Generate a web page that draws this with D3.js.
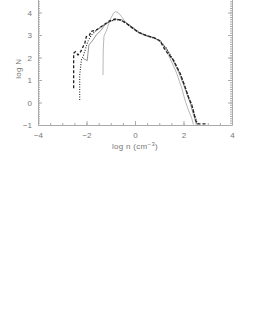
<!DOCTYPE html>
<html lang="en">
<head>
  <meta charset="UTF-8">
  <title>log N vs log n</title>
  <script src="https://d3js.org/d3.v7.min.js"></script>
  <style>
    body { margin: 0; background: #fff; }
    .axis path, .axis line { stroke: #aaa; }
    .axis text { fill: #777; font-family: "Liberation Sans", sans-serif; font-size: 8px; }
    .title { fill: #777; font-family: "Liberation Sans", sans-serif; font-size: 8px; letter-spacing: 0.3px; }
  </style>
</head>
<body>
  <svg class="chart" width="255" height="330"></svg>
  <script>
    // curve data (log n, log N)
    const thinX = [-1.32, -1.31, -1.28, -1.17, -1.03, -0.89, -0.80, -0.69, -0.55, -0.41, -0.21, 0.07, 0.34, 0.62, 0.89, 1.10, 1.24, 1.51, 1.72, 1.93, 2.06, 2.20, 2.34, 2.41];
    const thinY = [1.22, 2.33, 2.95, 3.22, 3.67, 3.96, 4.04, 3.99, 3.81, 3.59, 3.37, 3.15, 3.00, 2.90, 2.81, 2.63, 2.41, 1.81, 1.30, 0.63, 0.11, -0.33, -0.70, -0.98];

    const greyX = [-2.14, -1.97, -1.94, -1.90, -1.73, -1.60, -1.39, -1.25, -1.11, -0.95, -0.75, -0.55, -0.35, -0.10, 0.20, 0.50, 0.80, 1.05, 1.30, 1.55, 1.80, 2.00, 2.15, 2.30, 2.40, 2.50, 2.58];
    const greyY = [1.96, 1.86, 2.19, 2.56, 2.78, 3.00, 3.22, 3.44, 3.55, 3.64, 3.70, 3.68, 3.54, 3.34, 3.10, 2.97, 2.88, 2.72, 2.38, 1.90, 1.35, 0.80, 0.35, -0.10, -0.50, -0.85, -0.98];

    const dashX = [-2.53, -2.53, -2.46, -2.35, -2.24, -2.07, -2.01, -1.87, -1.83, -1.60, -1.40, -1.20, -1.03, -0.82, -0.62, -0.41, -0.14, 0.14, 0.48, 0.75, 1.03, 1.24, 1.58, 1.86, 2.06, 2.20, 2.34, 2.43, 2.52, 2.56, 2.75, 2.95];
    const dashY = [0.63, 2.19, 2.26, 2.11, 2.26, 2.63, 2.92, 3.00, 3.15, 3.22, 3.37, 3.52, 3.64, 3.71, 3.67, 3.55, 3.34, 3.12, 2.97, 2.90, 2.75, 2.33, 1.89, 1.30, 0.70, 0.26, -0.11, -0.48, -0.85, -0.95, -0.95, -0.95];

    const dotX = [-2.28, -2.28, -2.21, -2.14, -2.05, -1.95, -1.80, -1.60, -1.40, -1.20, -1.00, -0.80, -0.60, -0.40, -0.15, 0.15, 0.50, 0.80, 1.05, 1.30, 1.60, 1.88, 2.08, 2.22, 2.36, 2.46, 2.56, 2.64];
    const dotY = [0.11, 1.22, 1.89, 2.04, 2.35, 2.70, 3.00, 3.20, 3.35, 3.50, 3.62, 3.68, 3.66, 3.56, 3.36, 3.12, 2.96, 2.86, 2.72, 2.40, 1.85, 1.25, 0.65, 0.20, -0.15, -0.55, -0.90, -0.97];

    const xTicks = [-4, -2, 0, 2, 4];
    const yTicks = [-1, 0, 1, 2, 3, 4];

    const series = [
      { xs: thinX, ys: thinY, color: "#999", width: 0.7, dash: null },
      { xs: greyX, ys: greyY, color: "#888", width: 0.9, dash: null },
      { xs: dotX, ys: dotY, color: "#222", width: 1.1, dash: "1,1.5" },
      { xs: dashX, ys: dashY, color: "#222", width: 1.3, dash: "3,2" }
    ];

    const plotLeft = 38, plotRight = 232, plotBottom = 125, plotTop = -10;

    const x = d3.scaleLinear().domain([-4, 4]).range([plotLeft, plotRight]);
    const y = d3.scaleLinear().domain([-1, 5]).range([plotBottom, plotTop]);

    const svg = d3.select(".chart");
    const fmt = d => d < 0 ? "\u2212" + Math.abs(d) : "" + d;

    // bottom axis, inward ticks
    svg.append("g")
      .attr("class", "axis")
      .attr("transform", `translate(0,${plotBottom})`)
      .call(d3.axisBottom(x).tickValues(xTicks).tickSizeInner(-4).tickSizeOuter(0).tickPadding(7).tickFormat(fmt));

    svg.append("g")
      .attr("class", "axis")
      .attr("transform", `translate(0,${plotBottom})`)
      .call(d3.axisBottom(x).tickValues(d3.range(-4, 4.01, 0.5)).tickSizeInner(-2).tickSizeOuter(0).tickFormat(""))
      .select(".domain").remove();

    // left axis
    svg.append("g")
      .attr("class", "axis")
      .attr("transform", `translate(${plotLeft},0)`)
      .call(d3.axisLeft(y).tickValues(yTicks).tickSizeInner(-4).tickSizeOuter(0).tickPadding(6).tickFormat(fmt));

    svg.append("g")
      .attr("class", "axis")
      .attr("transform", `translate(${plotLeft},0)`)
      .call(d3.axisLeft(y).tickValues(d3.range(-1, 5.01, 0.1)).tickSizeInner(-2).tickSizeOuter(0).tickFormat(""))
      .select(".domain").remove();

    // right axis, no labels
    svg.append("g")
      .attr("class", "axis")
      .attr("transform", `translate(${plotRight},0)`)
      .call(d3.axisRight(y).tickValues(yTicks).tickSizeInner(-4).tickSizeOuter(0).tickFormat(""));

    svg.append("g")
      .attr("class", "axis")
      .attr("transform", `translate(${plotRight},0)`)
      .call(d3.axisRight(y).tickValues(d3.range(-1, 5.01, 0.1)).tickSizeInner(-2).tickSizeOuter(0).tickFormat(""))
      .select(".domain").remove();

    const line = d3.line().x(d => x(d[0])).y(d => y(d[1]));

    series.forEach(s => {
      svg.append("path")
        .datum(s.xs.map((v, i) => [v, s.ys[i]]))
        .attr("fill", "none")
        .attr("stroke", s.color)
        .attr("stroke-width", s.width)
        .attr("stroke-dasharray", s.dash)
        .attr("d", line);
    });

    svg.append("text")
      .attr("class", "title")
      .attr("transform", `translate(21,${y(1.5)}) rotate(-90)`)
      .attr("text-anchor", "middle")
      .text("log N");

    const xl = svg.append("text")
      .attr("class", "title")
      .attr("x", x(0))
      .attr("y", 149)
      .attr("text-anchor", "middle");
    xl.append("tspan").text("log n  (cm");
    xl.append("tspan").attr("font-size", "6px").attr("dy", -3).text("\u22123");
    xl.append("tspan").attr("dy", 3).text(")");
  </script>
</body>
</html>
